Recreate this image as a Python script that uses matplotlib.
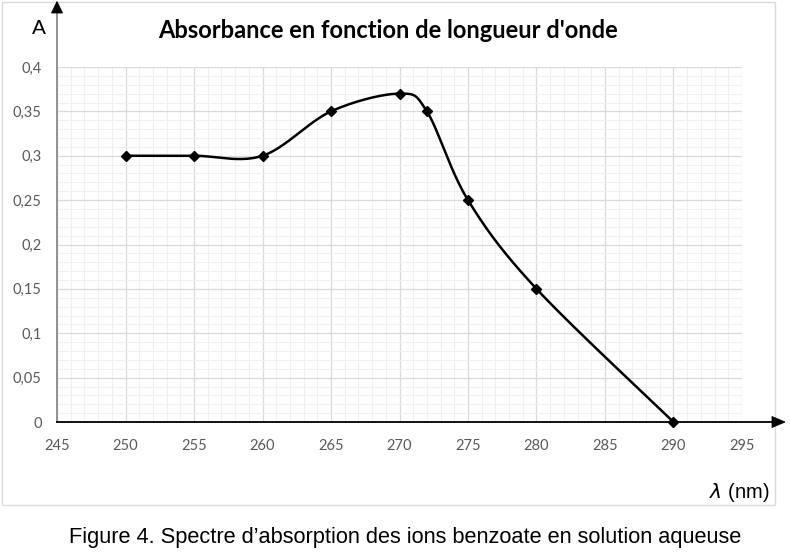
import numpy as np
import matplotlib
matplotlib.use('Agg')
import matplotlib.pyplot as plt
from matplotlib.patches import Rectangle, Polygon

# data
wavelength = [250, 255, 260, 265, 270, 272, 275, 280, 290]
absorbance = [0.30, 0.30, 0.30, 0.35, 0.37, 0.35, 0.25, 0.15, 0.0]
x_ticks = [245, 250, 255, 260, 265, 270, 275, 280, 285, 290, 295]
y_ticks = [0, 0.05, 0.1, 0.15, 0.2, 0.25, 0.3, 0.35, 0.4]

W, H = 790, 556


def smooth_curve(xs, ys, n=40):
    """Excel-like smoothed line (Catmull-Rom as cubic Bezier)"""
    pts = np.column_stack([xs, ys]).astype(float)
    out = [pts[0]]
    for i in range(len(pts) - 1):
        p0 = pts[i - 1] if i > 0 else pts[i]
        p1 = pts[i]
        p2 = pts[i + 1]
        p3 = pts[i + 2] if i + 2 < len(pts) else pts[i + 1]
        c1 = p1 + (p2 - p0) / 6.0
        c2 = p2 - (p3 - p1) / 6.0
        t = np.linspace(0, 1, n)[1:, None]
        seg = ((1 - t) ** 3) * p1 + 3 * ((1 - t) ** 2) * t * c1 \
            + 3 * (1 - t) * t ** 2 * c2 + t ** 3 * p2
        out.extend(seg)
    out = np.array(out)
    return out[:, 0], out[:, 1]


def px(x, y):
    # pixel position (from top-left) -> figure fraction
    return (x / W, 1 - y / H)


fig = plt.figure(figsize=(7.9, 5.56), dpi=100)
fig.patch.set_facecolor('white')

# outer chart frame
fig.patches.append(Rectangle(px(1.5, 505), 773.5 / W, 503.5 / H,
                             transform=fig.transFigure, facecolor='none',
                             edgecolor='#d9d9d9', linewidth=1))

ax = fig.add_axes([57 / W, 1 - 422 / H, 685 / W, 355 / H])
ax.set_xlim(245, 295)
ax.set_ylim(0, 0.4)

ax.set_xticks(x_ticks)
ax.set_yticks(y_ticks)
ax.set_xticks(np.arange(245, 296, 1), minor=True)
ax.set_yticks(np.arange(0, 0.401, 0.01), minor=True)
ax.set_xticklabels([str(v) for v in x_ticks])
ax.set_yticklabels(['0' if v == 0 else f'{v:g}'.replace('.', ',') for v in y_ticks])
ax.tick_params(which='both', length=0)
ax.tick_params(axis='both', labelsize=10.5, labelcolor='#595959')
ax.tick_params(axis='x', pad=12)
ax.tick_params(axis='y', pad=11)
for lab in ax.get_xticklabels() + ax.get_yticklabels():
    lab.set_family('Lato')

ax.grid(which='minor', color='#f0f0f0', linewidth=0.8)
ax.grid(which='major', color='#d9d9d9', linewidth=0.9)
ax.set_axisbelow(True)
for s in ax.spines.values():
    s.set_visible(False)

sx, sy = smooth_curve(wavelength, absorbance)
ax.plot(sx, sy, color='black', linewidth=1.8, zorder=3, clip_on=False)
ax.plot(wavelength, absorbance, linestyle='none', marker='D', markersize=5.5,
        color='black', zorder=4, clip_on=False)

# axes with arrow heads
fig.add_artist(plt.Line2D([57 / W, 57 / W], [1 - 422 / H, 1 - 10 / H],
                          color='#8a8a8a', linewidth=1.3))
fig.add_artist(plt.Line2D([57 / W, 774 / W], [1 - 422 / H, 1 - 422 / H],
                          color='black', linewidth=1.3))
fig.add_artist(Polygon([px(57, 1.5), px(51.5, 13), px(62.5, 13)], closed=True,
                       transform=fig.transFigure, facecolor='black',
                       edgecolor='black', linewidth=0.6, zorder=10))
fig.add_artist(Polygon([px(785, 422), px(772, 416.5), px(772, 427.5)], closed=True,
                       transform=fig.transFigure, facecolor='black',
                       edgecolor='black', linewidth=0.6, zorder=10))

fig.text(38.5 / W, 1 - 29 / H, 'A', fontsize=15, family='Liberation Sans',
         ha='center', va='center')
fig.text(388 / W, 1 - 31 / H, "Absorbance en fonction de longueur d'onde",
         fontsize=17, fontweight='bold', family='Lato', ha='center', va='center')
fig.text(769 / W, 1 - 492 / H, r'$\it{\lambda}$ (nm)', fontsize=14.5,
         family='Liberation Sans', ha='right', va='center')
fig.text(405 / W, 1 - 537 / H,
         "Figure 4. Spectre d\u2019absorption des ions benzoate en solution aqueuse",
         fontsize=15.7, family='Liberation Sans', ha='center', va='center')

fig.savefig('out.png', dpi=100)
